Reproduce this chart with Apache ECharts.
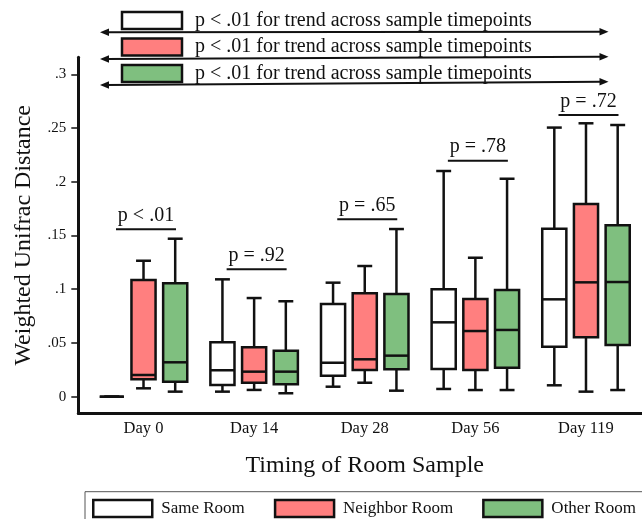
<!DOCTYPE html>
<html>
<head>
<meta charset="utf-8">
<title>Weighted Unifrac Distance by room sample timing</title>
<script src="https://cdn.jsdelivr.net/npm/echarts@6/dist/echarts.min.js"></script>
<style>
  html, body { margin: 0; padding: 0; background: #fff; }
  #chart { width: 642px; height: 519px; }
</style>
</head>
<body>
<div id="chart"></div>
<script>
// categories and series values: [min, Q1, median, Q3, max]
var days = ['Day 0', 'Day 14', 'Day 28', 'Day 56', 'Day 119'];
var roomNames = ['Same Room', 'Neighbor Room', 'Other Room'];
var sameRoom = [
    [0, 0, 0, 0, 0],
    [0.0047, 0.0109, 0.0246, 0.0506, 0.1092],
    [0.0093, 0.0195, 0.0316, 0.0863, 0.1061],
    [0.0072, 0.0258, 0.0692, 0.0999, 0.2100],
    [0.0106, 0.0465, 0.0906, 0.1563, 0.2504]
];
var neighborRoom = [
    [0.0078, 0.0162, 0.0202, 0.1086, 0.1265],
    [0.0063, 0.0130, 0.0233, 0.0460, 0.0918],
    [0.0130, 0.0249, 0.0348, 0.0962, 0.1216],
    [0.0062, 0.0248, 0.0611, 0.0909, 0.1293],
    [0.0047, 0.0553, 0.1064, 0.1793, 0.2544]
];
var otherRoom = [
    [0.0047, 0.0140, 0.0320, 0.1055, 0.1470],
    [0.0032, 0.0115, 0.0233, 0.0428, 0.0888],
    [0.0056, 0.0255, 0.0382, 0.0956, 0.1560],
    [0.0062, 0.0270, 0.0621, 0.0993, 0.2028],
    [0.0062, 0.0481, 0.1067, 0.1595, 0.2528]
];
// pairwise comparison labels above each day, and the level of their underline
var pLabels = ['p < .01', 'p = .92', 'p = .65', 'p = .78', 'p = .72'];
var pLevels = [0.1558, 0.1185, 0.1651, 0.2196, 0.2621];
// trend notes at the top, one per room
var trendNotes = [
    'p < .01 for trend across sample timepoints',
    'p < .01 for trend across sample timepoints',
    'p < .01 for trend across sample timepoints'
];
var yTicks = [0, 0.05, 0.1, 0.15, 0.2, 0.25, 0.3];

var colors = ['#ffffff', '#ff7f7f', '#7fbf7f'];
var font = '"Liberation Serif", "Times New Roman", serif';
var ink = '#111';

var chart = echarts.init(document.getElementById('chart'), null, { renderer: 'canvas' });

function withIndex(list) {
    return list.map(function (d, i) { return [i].concat(d); });
}

function boxRenderer(slot, fill) {
    return function (params, api) {
        var c = api.value(0);
        var band = api.size([1, 0])[0];
        var cx = api.coord([c, 0])[0] + (slot - 1) * band * 0.2865;
        var w = band * 0.218;
        var cap = band * 0.135;
        var yMin = api.coord([c, api.value(1)])[1];
        var yQ1 = api.coord([c, api.value(2)])[1];
        var yMed = api.coord([c, api.value(3)])[1];
        var yQ3 = api.coord([c, api.value(4)])[1];
        var yMax = api.coord([c, api.value(5)])[1];
        var ls = { stroke: ink, lineWidth: 2.5 };
        return {
            type: 'group',
            children: [
                { type: 'line', shape: { x1: cx, y1: yMax, x2: cx, y2: yQ3 }, style: ls },
                { type: 'line', shape: { x1: cx, y1: yQ1, x2: cx, y2: yMin }, style: ls },
                { type: 'line', shape: { x1: cx - cap / 2, y1: yMax, x2: cx + cap / 2, y2: yMax }, style: ls },
                { type: 'line', shape: { x1: cx - cap / 2, y1: yMin, x2: cx + cap / 2, y2: yMin }, style: ls },
                { type: 'rect', shape: { x: cx - w / 2, y: yQ3, width: w, height: yQ1 - yQ3 },
                  style: { fill: fill, stroke: ink, lineWidth: 2.5 } },
                { type: 'line', shape: { x1: cx - w / 2, y1: yMed, x2: cx + w / 2, y2: yMed }, style: ls }
            ]
        };
    };
}

function pRenderer(params, api) {
    var c = api.value(0);
    var p = api.coord([c, api.value(1)]);
    var cx = p[0] + 2.5;
    return {
        type: 'group',
        children: [
            { type: 'line', shape: { x1: cx - 30, y1: p[1], x2: cx + 30, y2: p[1] },
              style: { stroke: ink, lineWidth: 2 } },
            { type: 'text', style: { text: pLabels[params.dataIndex], x: cx, y: p[1] - 13.5,
              align: 'center', verticalAlign: 'middle', font: '20px ' + font, fill: ink } }
        ]
    };
}

// trend notes: swatch, text and a double arrow per row
var noteRows = [
    { top: 12, arrowL: 32.3, arrowR: 31.7 },
    { top: 38.5, arrowL: 59, arrowR: 56.7 },
    { top: 65, arrowL: 85, arrowR: 81.7 }
];
var noteGraphics = [];
noteRows.forEach(function (r, i) {
    noteGraphics.push({ type: 'rect', shape: { x: 122, y: r.top, width: 60, height: 17 },
        style: { fill: colors[i], stroke: ink, lineWidth: 2.5 } });
    noteGraphics.push({ type: 'text', style: { text: trendNotes[i], x: 195, y: r.top + 8.5,
        verticalAlign: 'middle', font: '20px ' + font, fill: ink } });
    noteGraphics.push({ type: 'line', shape: { x1: 106, y1: r.arrowL, x2: 602, y2: r.arrowR },
        style: { stroke: ink, lineWidth: 2 } });
    noteGraphics.push({ type: 'polygon', shape: { points: [[100, r.arrowL], [109, r.arrowL - 3.8], [109, r.arrowL + 3.8]] },
        style: { fill: ink } });
    noteGraphics.push({ type: 'polygon', shape: { points: [[608.5, r.arrowR], [599.5, r.arrowR - 3.8], [599.5, r.arrowR + 3.8]] },
        style: { fill: ink } });
});

var yMin = -0.01545, yMax = 0.3158;

chart.setOption({
    animation: false,
    backgroundColor: '#fff',
    textStyle: { fontFamily: font, color: ink },
    graphic: noteGraphics,
    legend: {
        data: roomNames,
        left: 85,
        top: 491.7,
        width: 570,
        padding: [7, 14, 10, 7],
        itemGap: 29,
        itemWidth: 59,
        itemHeight: 17,
        icon: 'rect',
        borderColor: '#555',
        borderWidth: 1,
        itemStyle: { borderColor: ink, borderWidth: 2.5 },
        textStyle: { fontFamily: font, fontSize: 17, color: ink, padding: [0, 0, 0, 4] }
    },
    grid: [
        { left: 88.2, width: 553.1, top: 57.3, height: 356, outerBoundsMode: 'none' },
        { left: 78.3, right: 0, top: 57.3, height: 356, outerBoundsMode: 'none' }
    ],
    xAxis: [
        {
            type: 'category', gridIndex: 0, data: days,
            axisLine: { show: false }, axisTick: { show: false },
            axisLabel: { fontFamily: font, fontSize: 16.5, color: ink, margin: 7 },
            name: 'Timing of Room Sample', nameLocation: 'middle', nameGap: 40,
            nameTextStyle: { fontFamily: font, fontSize: 24, color: ink }
        },
        {
            type: 'value', gridIndex: 1, min: 0, max: 1,
            axisLine: { onZero: false, lineStyle: { color: ink, width: 3 } },
            axisTick: { show: false }, axisLabel: { show: false }, splitLine: { show: false }
        }
    ],
    yAxis: [
        {
            type: 'value', gridIndex: 0, min: yMin, max: yMax, show: false,
            splitLine: { show: false }
        },
        {
            type: 'value', gridIndex: 1, min: yMin, max: yMax,
            axisLine: { show: true, onZero: false, lineStyle: { color: ink, width: 3 } },
            axisTick: { show: true, length: 7, customValues: yTicks, lineStyle: { color: ink, width: 1.5 } },
            axisLabel: {
                customValues: yTicks, fontFamily: font, fontSize: 15, color: ink, margin: 12,
                formatter: function (v) { return v === 0 ? '0' : String(v).replace(/^0/, ''); }
            },
            splitLine: { show: false },
            name: 'Weighted Unifrac Distance', nameLocation: 'middle', nameGap: 43,
            nameTextStyle: { fontFamily: font, fontSize: 24, color: ink }
        }
    ],
    series: [
        { name: roomNames[0], type: 'custom', xAxisIndex: 0, yAxisIndex: 0, itemStyle: { color: colors[0] },
          renderItem: boxRenderer(0, colors[0]), data: withIndex(sameRoom), encode: { x: 0, y: [1, 2, 3, 4, 5] } },
        { name: roomNames[1], type: 'custom', xAxisIndex: 0, yAxisIndex: 0, itemStyle: { color: colors[1] },
          renderItem: boxRenderer(1, colors[1]), data: withIndex(neighborRoom), encode: { x: 0, y: [1, 2, 3, 4, 5] } },
        { name: roomNames[2], type: 'custom', xAxisIndex: 0, yAxisIndex: 0, itemStyle: { color: colors[2] },
          renderItem: boxRenderer(2, colors[2]), data: withIndex(otherRoom), encode: { x: 0, y: [1, 2, 3, 4, 5] } },
        { name: 'p values', type: 'custom', xAxisIndex: 0, yAxisIndex: 0, clip: false, silent: true,
          renderItem: pRenderer, data: pLevels.map(function (v, i) { return [i, v]; }), encode: { x: 0, y: 1 } }
    ]
});
</script>
</body>
</html>
